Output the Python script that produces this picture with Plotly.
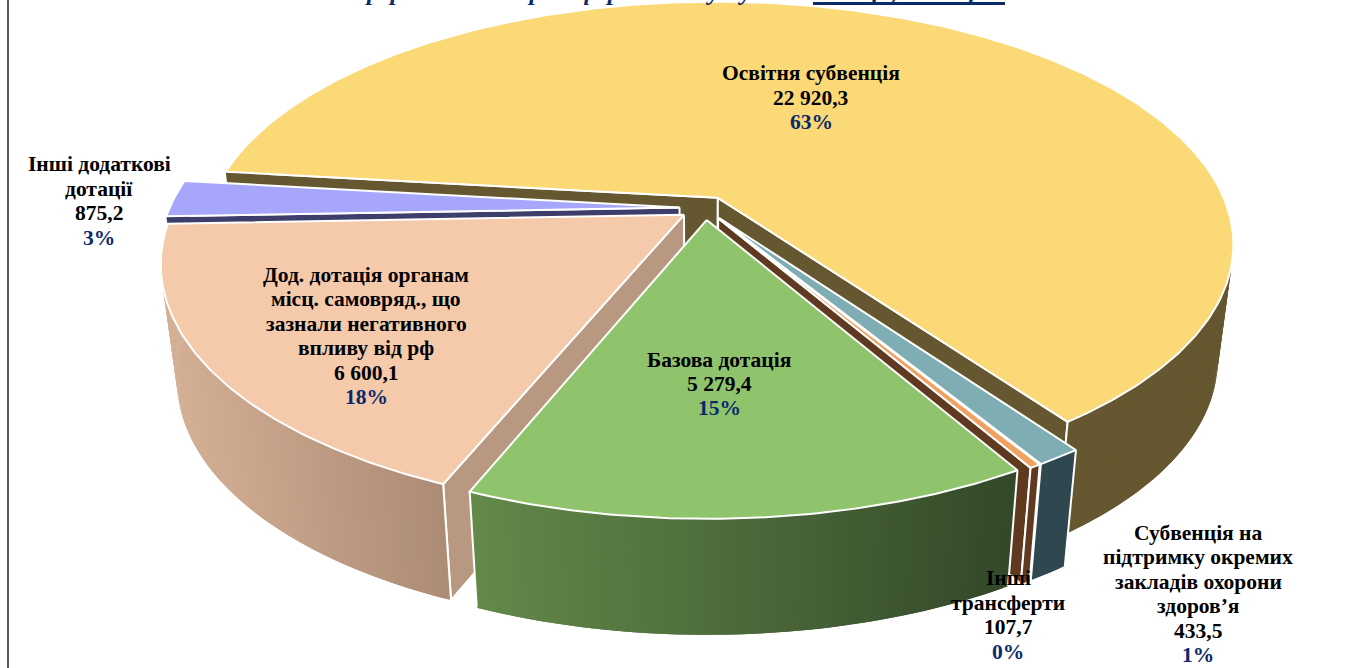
import numpy as np
import plotly.graph_objects as go

# --- data -----------------------------------------------------------------
categories = ["Освітня субвенція", "Субвенція на підтримку окремих закладів охорони здоров’я",
              "Інші трансферти", "Базова дотація",
              "Дод. дотація органам місц. самовряд., що зазнали негативного впливу від рф",
              "Інші додаткові дотації"]
values = [22920.3, 433.5, 107.7, 5279.4, 6600.1, 875.2]
value_labels = ["22 920,3", "433,5", "107,7", "5 279,4", "6 600,1", "875,2"]
percent_labels = ["63%", "1%", "0%", "15%", "18%", "3%"]
label_lines = [["Освітня субвенція"],
               ["Субвенція на", "підтримку окремих", "закладів охорони", "здоров’я"],
               ["Інші", "трансферти"],
               ["Базова дотація"],
               ["Дод. дотація органам", "місц. самовряд., що", "зазнали негативного", "впливу від рф"],
               ["Інші додаткові", "дотації"]]

top_colors = ["#fbd976", "#7eadb3", "#f0a060", "#8fc46d", "#f5caab", "#a6a6fb"]
face_colors = ["#65572f", "#2f4850", "#603a20", "#34482a", "#b89880", "#3e3e6a"]
wall_left = ["#65572f", "#2f4850", "#603a20", "#648a4a", "#d5b196", "#3e3e6a"]
wall_right = ["#65572f", "#2f4850", "#603a20", "#33492a", "#ad8c76", "#3e3e6a"]
draw_order = [0, 5, 4, 1, 2, 3]
label_pos = [(811, 97.5), (1198, 594), (1008, 615), (719, 384), (366, 336), (99, 201)]
LINE_GAP = 24.4
NAVY = "#0b2a6b"

# --- projection of the tilted disc -----------------------------------------
START = 276.6
CX, CY, RX, RY, K = 705.0, 208.0, 510.0, 237.0, 0.19
EXPLODE, DEPTH, SHRINK = 0.05, 116.0, 0.03


def project(u, v):
    w = 1 - K * np.asarray(v)
    return CX + RX * np.asarray(u) / w, CY + RY * np.asarray(v) / w


def lower(x, y):
    return x + SHRINK * (CX - x), y + DEPTH


def hex2rgb(c):
    return np.array([int(c[i:i + 2], 16) for i in (1, 3, 5)], float)


def mix(a, b, f):
    r = hex2rgb(a) * (1 - f) + hex2rgb(b) * f
    return "rgb(%d,%d,%d)" % tuple(r)


fig = go.Figure()


def poly(x, y, fill, line="#ffffff", width=2):
    fig.add_trace(go.Scatter(x=list(x), y=list(y), mode="lines", fill="toself", fillcolor=fill,
                             line=dict(color=line, width=width), hoverinfo="skip", showlegend=False))


total = sum(values)
sweeps = [v / total * 360 for v in values]
starts = START + np.concatenate([[0], np.cumsum(sweeps)[:-1]])

for i in draw_order:
    a0, a1 = starts[i], starts[i] + sweeps[i]
    mid = np.radians((a0 + a1) / 2)
    ou, ov = EXPLODE * np.sin(mid), -EXPLODE * np.cos(mid)
    th = np.radians(np.linspace(a0, a1, max(int(sweeps[i] * 1.5), 4) + 1))
    rim_x, rim_y = project(ou + np.sin(th), ov - np.cos(th))
    ax, ay = project(ou, ov)
    bx, by = lower(rim_x, rim_y)
    abx, aby = lower(ax, ay)

    # cut faces: only those turned towards the viewer
    if np.sin(th[0]) < 0:
        poly([ax, rim_x[0], bx[0], abx, ax], [ay, rim_y[0], by[0], aby, ay], face_colors[i])
    if np.sin(th[-1]) > 0:
        poly([ax, rim_x[-1], bx[-1], abx, ax], [ay, rim_y[-1], by[-1], aby, ay], face_colors[i])

    # outer wall, shaded strip by strip (each strip runs under the next one)
    span = max(rim_x.max() - rim_x.min(), 1)
    for j in range(len(th) - 1):
        if -np.cos(th[j]) < -0.3 and -np.cos(th[j + 1]) < -0.3:
            continue
        e = min(j + 2, len(th) - 1)
        f = ((rim_x[j] + rim_x[j + 1]) / 2 - rim_x.min()) / span
        c = mix(wall_left[i], wall_right[i], min(max(f, 0), 1))
        xs = np.r_[rim_x[j:e + 1], bx[j:e + 1][::-1], rim_x[j]]
        ys = np.r_[rim_y[j:e + 1], by[j:e + 1][::-1], rim_y[j]]
        poly(xs, ys, c, line=c, width=0)

    # white corner edges of the walls that face the viewer
    for k in (0, -1):
        if -np.cos(th[k]) > 0.3:
            fig.add_trace(go.Scatter(x=[rim_x[k], bx[k]], y=[rim_y[k], by[k]], mode="lines",
                                     line=dict(color="#ffffff", width=2), hoverinfo="skip", showlegend=False))

    # top
    poly(np.r_[ax, rim_x, ax], np.r_[ay, rim_y, ay], top_colors[i])

# --- labels: one text per line, so the line gap stays tighter than the font's default --------
for i, (x, y) in enumerate(label_pos):
    lines = label_lines[i] + [value_labels[i], percent_labels[i]]
    for n, line in enumerate(lines):
        colour = NAVY if n == len(lines) - 1 else "#000000"
        fig.add_annotation(x=x, y=y + (n - (len(lines) - 1) / 2) * LINE_GAP, xref="x", yref="y", text=line,
                           showarrow=False, xanchor="center", yanchor="middle", align="center",
                           font=dict(family="Liberation Serif", size=21.5, color=colour, weight="bold"))

# clipped heading at the very top of the picture
fig.add_annotation(x=340 / 1365, y=1, xref="paper", yref="paper", xanchor="left", yanchor="bottom",
                   yshift=-7, showarrow=False,
                   text="<b><i>перерахованих трансфертів на душу</i></b>",
                   font=dict(family="Liberation Serif", size=25, color=NAVY))
fig.add_annotation(x=813 / 1365, y=1, xref="paper", yref="paper", xanchor="left", yanchor="bottom",
                   yshift=-7, showarrow=False,
                   text="<b><i>2024 р., млн. грн.</i></b>",
                   font=dict(family="Liberation Serif", size=25, color=NAVY))

fig.update_layout(
    width=1365, height=668, margin=dict(l=0, r=0, t=0, b=0),
    paper_bgcolor="#ffffff", plot_bgcolor="#ffffff", showlegend=False, hovermode=False,
    xaxis=dict(range=[0, 1365], visible=False, fixedrange=True),
    yaxis=dict(range=[668, 0], visible=False, fixedrange=True),
    shapes=[
        dict(type="line", xref="x", yref="y", x0=8, x1=8, y0=0, y1=668, line=dict(color="#5a5a5a", width=2)),
        dict(type="line", xref="x", yref="y", x0=813, x1=1005, y0=3.5, y1=3.5, line=dict(color=NAVY, width=3)),
    ],
)

fig.write_html("out.html", config=dict(displayModeBar=False),
               post_script="document.body.style.margin='0';document.body.style.overflow='hidden';")
